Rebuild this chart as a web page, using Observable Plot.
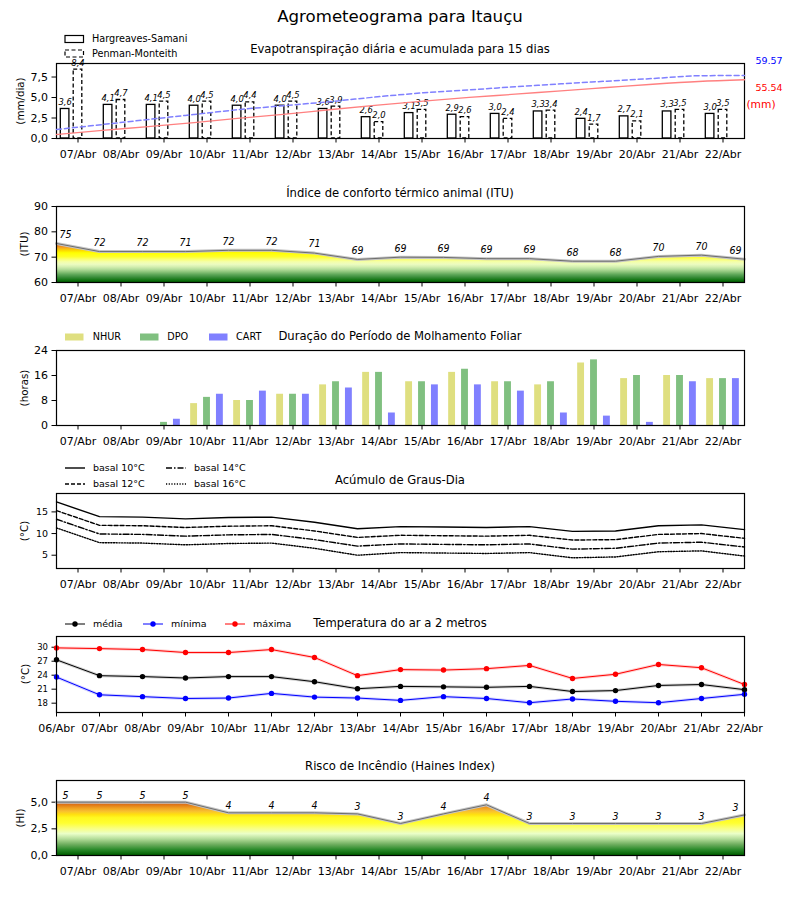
<!DOCTYPE html>
<html><head><meta charset="utf-8">
<script src="https://cdn.jsdelivr.net/npm/d3@7"></script>
<script src="https://cdn.jsdelivr.net/npm/@observablehq/plot@0.6"></script>
<style>
body{margin:0;background:#fff;font-family:"DejaVu Sans",sans-serif;}
#wrap{position:relative;width:800px;height:900px;overflow:hidden;background:#fff}
.t{position:absolute;white-space:nowrap;color:#000;line-height:1;}
</style></head><body><div id="wrap"></div>
<script>
// ---------- DATA ----------
const days = ["07/Abr","08/Abr","09/Abr","10/Abr","11/Abr","12/Abr","13/Abr","14/Abr","15/Abr","16/Abr","17/Abr","18/Abr","19/Abr","20/Abr","21/Abr","22/Abr"];
const tempDays = ["06/Abr","07/Abr","08/Abr","09/Abr","10/Abr","11/Abr","12/Abr","13/Abr","14/Abr","15/Abr","16/Abr","17/Abr","18/Abr","19/Abr","20/Abr","21/Abr","22/Abr"];

const etHargreaves = [3.6,4.1,4.1,4.0,4.0,4.0,3.6,2.6,3.1,2.9,3.0,3.3,2.4,2.7,3.3,3.0];
const etPenman     = [8.4,4.7,4.5,4.5,4.4,4.5,3.9,2.0,3.5,2.6,2.4,3.4,1.7,2.1,3.5,3.5];
const cumPenman     = [8.5,13.2,18.0,22.7,27.4,31.2,35.0,39.4,43.2,46.0,48.9,51.7,54.2,56.7,59.3,59.57];
const cumHargreaves = [3.8,7.6,11.3,15.1,19.2,23.0,27.4,31.5,35.3,38.8,41.9,45.1,48.2,51.3,53.9,55.54];
const cumTotals = ["59.57","55.54"];

const itu       = [75.4,72.2,72.2,72.2,72.7,72.7,71.6,69.1,70.0,69.9,69.4,69.4,68.4,68.4,70.3,70.8,69.2];
const ituLabels = [75,72,72,71,72,72,71,69,69,69,69,69,68,68,70,70,69];

const nhur = [0,0,0,7,8,10,13,17,14,17,14,13,20,15,16,15];
const dpo  = [0,0,1,9,8,10,14,17,14,18,14,14,21,16,16,15];
const cart = [0,0,2,10,11,10,12,4,13,13,11,4,3,1,14,15];

const gd10 = [17.3,13.9,13.8,13.4,13.7,13.8,12.6,11.1,11.6,11.5,11.4,11.6,10.5,10.6,11.8,12.0,10.9];
const gd12 = [15.3,11.9,11.8,11.4,11.7,11.8,10.6,9.1,9.6,9.5,9.4,9.6,8.5,8.6,9.8,10.0,8.9];
const gd14 = [13.3,9.9,9.8,9.4,9.7,9.8,8.6,7.1,7.6,7.5,7.4,7.6,6.4,6.6,7.8,8.0,6.9];
const gd16 = [11.3,7.9,7.8,7.4,7.7,7.8,6.6,5.0,5.6,5.5,5.4,5.6,4.4,4.6,5.8,6.0,4.8];

const tMax = [29.86,29.7,29.5,28.86,28.86,29.5,27.8,23.9,25.2,25.1,25.4,26.1,23.3,24.2,26.3,25.6,22.0];
const tMed = [27.3,23.9,23.7,23.4,23.7,23.7,22.6,21.1,21.6,21.5,21.4,21.6,20.5,20.7,21.8,22.0,20.9];
const tMin = [23.6,19.8,19.4,19.0,19.1,20.1,19.3,19.1,18.6,19.4,19.0,18.1,18.9,18.4,18.1,19.0,19.9];

const haines       = [5.0,5.0,5.0,5.0,4.0,4.0,4.0,3.9,3.0,3.9,4.75,3.0,3.0,3.0,3.0,3.0,3.8];
const hainesLabels = [5,5,5,5,4,4,4,3,3,4,4,3,3,3,3,3,3];

// ---------- HELPERS ----------
const wrap = document.getElementById("wrap");
const FONT = "DejaVu Sans";
const COND = "'DejaVu Sans Condensed', 'Liberation Sans Narrow', 'DejaVu Sans'";
const comma = d => d.toFixed(1).replace(".", ",");
const idx16 = d3.range(16), idx17 = d3.range(17);

function label(str, x, y, o = {}) {
  const d = document.createElement("div");
  d.className = "t"; d.textContent = str;
  d.style.fontSize = (o.size || 11) + "px";
  d.style.color = o.color || "#000";
  if (o.italic) d.style.fontStyle = "italic";
  d.style.left = x + "px"; d.style.top = y + "px";
  const tx = o.anchor === "start" ? "0" : o.anchor === "end" ? "-100%" : "-50%";
  d.style.transform = `translate(${tx},-50%)` + (o.rotate ? ` rotate(${o.rotate}deg)` : "");
  wrap.appendChild(d);
}
function svgIcon(x, y, w, h, inner) {
  const s = document.createElementNS("http://www.w3.org/2000/svg", "svg");
  s.setAttribute("width", w); s.setAttribute("height", h);
  s.style.position = "absolute"; s.style.left = x + "px"; s.style.top = y + "px";
  s.innerHTML = inner; wrap.appendChild(s);
}
const xDays = {domain: [-0.5, 15.5], ticks: idx16, tickFormat: i => days[i], tickSize: 4.5, tickPadding: 7, label: null};

function panel({top, bottom, x, y, marks, transparent = false, yFont = null}) {
  const mt = 22, mb = 32;
  const p = Plot.plot({
    width: 800, height: bottom - top + mt + mb,
    marginLeft: 56, marginRight: 56, marginTop: mt, marginBottom: mb,
    x, y, marks,
    style: {background: transparent ? "transparent" : "white", fontFamily: FONT, fontSize: "11px", overflow: "visible", color: "#000"}
  });
  p.style.position = "absolute"; p.style.left = "0px"; p.style.top = (top - mt) + "px";
  wrap.appendChild(p);
  if (yFont) d3.select(p).selectAll('[aria-label^="y-axis"] text').attr("font-size", yFont).style("font-size", yFont + "px");
  return p;
}
function addGradient(svg, id, stops) {
  const s = svg.scale("y");
  const f = s.apply ? (v => s.apply(v)) : d3.scaleLinear(s.domain, s.range);
  const [d0, d1] = s.domain;
  const g = d3.select(svg).insert("defs", ":first-child").append("linearGradient")
    .attr("id", id).attr("gradientUnits", "userSpaceOnUse")
    .attr("x1", 0).attr("x2", 0).attr("y1", f(d0)).attr("y2", f(d1));
  for (const [v, c] of stops) g.append("stop").attr("offset", Math.max(0, Math.min(1, (v - d0) / (d1 - d0)))).attr("stop-color", c);
}
const yAx = (o) => Object.assign({tickSize: 4.5, tickPadding: 4, label: null}, o);
const edgeLabels = (vals, labs, extra) => [
  Plot.text(idx17.filter(i => i > 0 && i < 16), {x: i => i - 0.5, y: i => vals[i], text: i => String(labs[i]), ...extra}),
  Plot.text([0], {x: i => i - 0.5, y: i => vals[i], text: i => String(labs[i]), dx: 9, ...extra}),
  Plot.text([16], {x: i => i - 0.5, y: i => vals[i], text: i => String(labs[i]), dx: -9, ...extra})
];
const valFont = {fontStyle: "italic", fontFamily: COND};

// ---------- PANEL 1: Evapotranspiração ----------
panel({top: 63, bottom: 138, x: xDays,
  y: yAx({domain: [0, 9.15], ticks: [0, 2.5, 5, 7.5], tickFormat: comma}),
  marks: [
    Plot.rectY(idx16, {x1: i => i - 0.4, x2: i => i - 0.2, y1: 0, y2: i => etHargreaves[i], fill: "white", stroke: "black", strokeWidth: 1.3}),
    Plot.rectY(idx16, {x1: i => i - 0.1, x2: i => i + 0.1, y1: 0, y2: i => etPenman[i], fill: "white", stroke: "black", strokeWidth: 1.3, strokeDasharray: "4,2.5"}),
    Plot.text(idx16, {x: i => i - 0.3, y: i => etHargreaves[i], text: i => comma(etHargreaves[i]), dy: -7, fontSize: 9.3, ...valFont}),
    Plot.text(idx16, {x: i => i, y: i => etPenman[i], text: i => comma(etPenman[i]), dy: -7, fontSize: 9.3, ...valFont}),
    Plot.frame({stroke: "black", strokeWidth: 1.2})
  ]});
panel({top: 63, bottom: 138, transparent: true,
  x: {domain: [0, 15], axis: null}, y: {domain: [0, 70.9], axis: null},
  marks: [
    Plot.lineY(idx16, {x: i => i, y: i => cumPenman[i], stroke: "#8080ff", strokeWidth: 1.5, strokeDasharray: "5,3", curve: "monotone-x"}),
    Plot.lineY(idx16, {x: i => i, y: i => cumHargreaves[i], stroke: "#ff8080", strokeWidth: 1.3, curve: "monotone-x"})
  ]});

// ---------- PANEL 2: ITU ----------
const p2 = panel({top: 206, bottom: 282, x: xDays,
  y: yAx({domain: [60, 90], ticks: [60, 70, 80, 90]}),
  marks: [
    Plot.areaY(idx17, {x: i => i - 0.5, y1: 60, y2: i => itu[i], fill: "url(#gITU)"}),
    Plot.lineY(idx17, {x: i => i - 0.5, y: i => itu[i], stroke: "#c4c4c4", strokeWidth: 3}),
    Plot.lineY(idx17, {x: i => i - 0.5, y: i => itu[i], stroke: "#6e6e6e", strokeWidth: 1}),
    ...edgeLabels(itu, ituLabels, {dy: -9, fontSize: 10.5, ...valFont}),
    Plot.frame({stroke: "black", strokeWidth: 1.2})
  ]});
addGradient(p2, "gITU", [[60,"#005e00"],[61,"#1a7a1a"],[62,"#3d8f3d"],[63,"#60a85a"],[64,"#8cc47a"],[65,"#b4dd9a"],[66,"#d4efb0"],[67,"#ecfcc0"],[68,"#f4ffa8"],[69,"#faff70"],[70,"#ffff28"],[71.5,"#ffff00"],[72.5,"#fcd800"],[73.5,"#f5a820"],[74.5,"#eb7a18"],[75.5,"#dd5010"],[80,"#cc2200"],[90,"#aa0000"]]);

// ---------- PANEL 3: Molhamento foliar ----------
panel({top: 350, bottom: 425, x: xDays,
  y: yAx({domain: [0, 24], ticks: [0, 8, 16, 24]}),
  marks: [
    Plot.rectY(idx16, {x1: i => i - 0.38, x2: i => i - 0.22, y1: 0, y2: i => nhur[i], fill: "#dfdf80"}),
    Plot.rectY(idx16, {x1: i => i - 0.08, x2: i => i + 0.08, y1: 0, y2: i => dpo[i], fill: "#80c080"}),
    Plot.rectY(idx16, {x1: i => i + 0.22, x2: i => i + 0.38, y1: 0, y2: i => cart[i], fill: "#8080ff"}),
    Plot.frame({stroke: "black", strokeWidth: 1.2})
  ]});

// ---------- PANEL 4: Graus-dia ----------
panel({top: 493, bottom: 568, x: xDays, yFont: 9.5,
  y: yAx({domain: [1.93, 19.25], ticks: [5, 10, 15]}),
  marks: [
    Plot.lineY(idx17, {x: i => i - 0.5, y: i => gd10[i], stroke: "black", strokeWidth: 1.4}),
    Plot.lineY(idx17, {x: i => i - 0.5, y: i => gd12[i], stroke: "black", strokeWidth: 1.4, strokeDasharray: "4,2"}),
    Plot.lineY(idx17, {x: i => i - 0.5, y: i => gd14[i], stroke: "black", strokeWidth: 1.4, strokeDasharray: "6,2,1.5,2"}),
    Plot.lineY(idx17, {x: i => i - 0.5, y: i => gd16[i], stroke: "black", strokeWidth: 1.4, strokeDasharray: "1.2,1.5"}),
    Plot.frame({stroke: "black", strokeWidth: 1.2})
  ]});

// ---------- PANEL 5: Temperatura ----------
const tSeries = [[tMed, "black"], [tMin, "blue"], [tMax, "red"]];
panel({top: 636, bottom: 712, yFont: 8.5,
  x: {domain: [0, 16], ticks: idx17, tickFormat: i => tempDays[i], tickSize: 4.5, tickPadding: 7, label: null},
  y: yAx({domain: [16.0, 32.3], ticks: [18, 21, 24, 27, 30]}),
  marks: [
    ...tSeries.map(([s, c]) => Plot.lineY(idx17, {x: i => i, y: i => s[i], stroke: c, strokeWidth: 3, strokeOpacity: 0.18})),
    ...tSeries.map(([s, c]) => Plot.lineY(idx17, {x: i => i, y: i => s[i], stroke: c, strokeWidth: 1})),
    ...tSeries.map(([s, c]) => Plot.dot(idx17, {x: i => i, y: i => s[i], fill: c, r: 2.7})),
    Plot.frame({stroke: "black", strokeWidth: 1.2})
  ]});

// ---------- PANEL 6: Haines ----------
const p6 = panel({top: 780, bottom: 855, x: xDays,
  y: yAx({domain: [0, 7.03], ticks: [0, 2.5, 5], tickFormat: comma}),
  marks: [
    Plot.areaY(idx17, {x: i => i - 0.5, y1: 0, y2: i => haines[i], fill: "url(#gHI)"}),
    Plot.lineY(idx17, {x: i => i - 0.5, y: i => haines[i], stroke: "#c4c4c4", strokeWidth: 3}),
    Plot.lineY(idx17, {x: i => i - 0.5, y: i => haines[i], stroke: "#6e6e6e", strokeWidth: 1}),
    ...edgeLabels(haines, hainesLabels, {dy: -7, fontSize: 10.5, ...valFont}),
    Plot.frame({stroke: "black", strokeWidth: 1.2})
  ]});
addGradient(p6, "gHI", [[0,"#005e00"],[0.5,"#2a8a2a"],[1.0,"#6fae5f"],[1.5,"#b2dc98"],[2.0,"#eaffc8"],[2.5,"#f9ff80"],[3.0,"#ffff30"],[3.5,"#fff820"],[3.8,"#ffe010"],[4.1,"#f8c030"],[4.4,"#f0a020"],[4.7,"#e07818"],[5.0,"#c85010"],[7,"#a03000"]]);

// ---------- TEXT / LEGENDS ----------
label("Agrometeograma para Itauçu", 400, 17, {size: 16.6});
label("Evapotranspiração diária e acumulada para 15 dias", 400, 50, {size: 11.6});
label("Índice de conforto térmico animal (ITU)", 400, 194, {size: 11.6});
label("Duração do Período de Molhamento Foliar", 400, 337, {size: 11.6});
label("Acúmulo de Graus-Dia", 400, 481, {size: 11.6});
label("Temperatura do ar a 2 metros", 400, 624, {size: 11.6});
label("Risco de Incêndio (Haines Index)", 400, 767, {size: 11.6});

label("(mm/dia)", 20, 100.5, {size: 10.3, rotate: -90});
label("(ITU)", 24, 244, {size: 10.3, rotate: -90});
label("(horas)", 24, 387.5, {size: 10.3, rotate: -90});
label("(°C)", 24, 530.5, {size: 10.3, rotate: -90});
label("(°C)", 24.5, 674, {size: 10.3, rotate: -90});
label("(HI)", 20, 817.5, {size: 10.3, rotate: -90});

// panel 1 legend + totals
svgIcon(64, 34, 22, 26, '<rect x="1" y="1.5" width="18.5" height="7" fill="white" stroke="black" stroke-width="1.2"/><rect x="1" y="16" width="18.5" height="7" fill="white" stroke="black" stroke-width="1.2" stroke-dasharray="4,2.5"/>');
label("Hargreaves-Samani", 92, 39, {size: 9.7, anchor: "start"});
label("Penman-Monteith", 92, 53.5, {size: 9.7, anchor: "start"});
label(cumTotals[0], 769, 61, {size: 9.5, color: "#0000ff"});
label(cumTotals[1], 769, 88, {size: 9.5, color: "#ff0000"});
label("(mm)", 761, 105, {size: 10.7, color: "#ff0000"});

// panel 3 legend
[["NHUR", "#dfdf80", 65, 92.7], ["DPO", "#80c080", 139.5, 167.3], ["CART", "#8080ff", 208.5, 236]].forEach(([t, c, sx, tx]) => {
  svgIcon(sx, 333, 19, 8, `<rect x="0" y="0.5" width="18.5" height="7" fill="${c}"/>`);
  label(t, tx, 336.8, {size: 9.7, anchor: "start"});
});

// panel 4 legend
[["basal 10°C", "", 64, 468.3], ["basal 12°C", "4,2", 64, 484], ["basal 14°C", "6,2,1.5,2", 165, 468.3], ["basal 16°C", "1.2,1.5", 165, 484]].forEach(([t, dash, x, y]) => {
  svgIcon(x, y - 3, 22, 6, `<line x1="1" x2="21" y1="3" y2="3" stroke="black" stroke-width="1.4" ${dash ? `stroke-dasharray="${dash}"` : ""}/>`);
  label(t, x + 29, y, {size: 9.5, anchor: "start"});
});

// panel 5 legend
[["média", "black", 64], ["mínima", "blue", 142], ["máxima", "red", 224]].forEach(([t, c, x]) => {
  svgIcon(x, 620, 22, 8, `<line x1="1" x2="21" y1="4" y2="4" stroke="${c}" stroke-width="1"/><circle cx="11" cy="4" r="2.7" fill="${c}"/>`);
  label(t, x + 29, 624, {size: 9.5, anchor: "start"});
});
</script></body></html>
